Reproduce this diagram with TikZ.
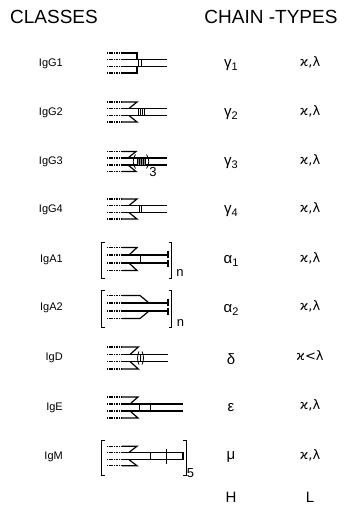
\documentclass[tikz,border=0pt]{standalone}
\usepackage{fontspec}
\setmainfont{Liberation Sans}
\newfontfamily\kfont{DejaVu Sans}
\usetikzlibrary{calc}

% chain drawing helpers (x in pt from the left, y relative to the row centre)
\newcommand\vreg[1]{\draw[vregion] (107,#1) -- (122,#1);}
\newcommand\hchain[2]{\vreg{#1}\draw[chain] (122,#1) -- (#2,#1);}
\newcommand\zlight[3]{\vreg{#1}\draw[chain] (122,#1) -- (#3,#1) -- ($(#3,#2)+(-8,0)$);}
\newcommand\lbr[3]{\draw[brk] (#1+3,#2) -- (#1,#2) -- (#1,#3) -- (#1+3,#3);}
\newcommand\rbr[3]{\draw[brk] (#1-3,#2) -- (#1,#2) -- (#1,#3) -- (#1-3,#3);}
\newcommand\sbs[1]{\raisebox{-0.35ex}{\fontsize{11}{11}\selectfont #1}}

\begin{document}
\begin{tikzpicture}[x=1pt,y=-1pt,
  chain/.style={line width=1.2pt},
  vregion/.style={line width=1.1pt, dash pattern=on 1.1pt off 0.6pt},
  hinge/.style={line width=0.8pt},
  brk/.style={line width=1pt},
  head/.style={font=\fontsize{19}{19}\selectfont, inner sep=0pt},
  cls/.style={font=\fontsize{11}{11}\selectfont, anchor=east, inner sep=0pt},
  hgreek/.style={font=\fontsize{15}{15}\selectfont, inner sep=0pt},
  lgreek/.style={font=\kfont\fontsize{13}{13}\selectfont, inner sep=0pt},
  idx/.style={font=\fontsize{13}{13}\selectfont, inner sep=0pt}]
\useasboundingbox (0,0) rectangle (350,516);

% column headings
\node[head] (hcls) at (54,17) {CLASSES};
\node[head] (hch) at (271,17) {CHAIN -TYPES};

% IgG1
\node[cls] (c1) at (63,64) {IgG1};
\node[hgreek] (h1) at (231,65) {γ\sbs{1}};
\node[lgreek] (l1) at (310,62) {ϰ,λ};
\begin{scope}[shift={(0,63)}]
  \hchain{-3.5}{167}\hchain{3.5}{167}
  \vreg{-10}\draw[chain] (122,-10) -- (137,-10) -- (137,-3.5);
  \vreg{10}\draw[chain] (122,10) -- (137,10) -- (137,3.5);
  \draw[hinge] (138.8,-3.5) -- (138.8,3.5) (141,-3.5) -- (141,3.5);
\end{scope}

% IgG2
\node[cls] (c2) at (63,113) {IgG2};
\node[hgreek] (h2) at (231,114) {γ\sbs{2}};
\node[lgreek] (l2) at (310,111) {ϰ,λ};
\begin{scope}[shift={(0,112)}]
  \hchain{-3.5}{167}\hchain{3.5}{167}
  \zlight{-10}{-3.5}{137}\zlight{10}{3.5}{137}
  \foreach \hx in {138.6,140.4,142.2,144}
    \draw[hinge] (\hx,-3.5) -- (\hx,3.5);
\end{scope}

% IgG3
\node[cls] (c3) at (63,162) {IgG3};
\node[hgreek] (h3) at (231,163) {γ\sbs{3}};
\node[lgreek] (l3) at (310,160) {ϰ,λ};
\begin{scope}[shift={(0,161.5)}]
  \hchain{-3.5}{167}\hchain{3.5}{167}
  \zlight{-10}{-3.5}{136}\zlight{10}{3.5}{136}
  \draw[hinge] (135.5,-7) .. controls (132.5,-3) and (132.5,3) .. (135.5,7);
  \draw[hinge] (146.5,-7) .. controls (149.5,-3) and (149.5,3) .. (146.5,7);
  \draw[hinge, fill=black!45] (137.5,-3.5) rectangle (145,3.5);
  \foreach \hx in {139.4,141.3,143.2}
    \draw[hinge] (\hx,-3.5) -- (\hx,3.5);
  \node[idx] (n3) at (153,11) {3};
\end{scope}

% IgG4
\node[cls] (c4) at (63,210) {IgG4};
\node[hgreek] (h4) at (231,211) {γ\sbs{4}};
\node[lgreek] (l4) at (310,208) {ϰ,λ};
\begin{scope}[shift={(0,209)}]
  \hchain{-3.5}{167}\hchain{3.5}{167}
  \zlight{-10}{-3.5}{137}\zlight{10}{3.5}{137}
  \draw[hinge] (139.4,-3.5) -- (139.4,3.5) (141.4,-3.5) -- (141.4,3.5);
\end{scope}

% IgA1
\node[cls] (c5) at (63,260) {IgA1};
\node[hgreek] (h5) at (231,261) {α\sbs{1}};
\node[lgreek] (l5) at (310,258) {ϰ,λ};
\begin{scope}[shift={(0,259)}]
  \hchain{-4}{168}\hchain{4}{168}
  \zlight{-11.5}{-4}{137}\zlight{11.5}{4}{137}
  \draw[hinge] (140,-4) -- (140,4);
  \draw[chain] (168,-7.8) -- (168,-0.8) (168,0.8) -- (168,7.8);
  \lbr{101.7}{-17}{19}\rbr{171.7}{-17}{19}
  \node[idx] (na1) at (180,14) {n};
\end{scope}

% IgA2
\node[cls] (c6) at (63,308) {IgA2};
\node[hgreek] (h6) at (231,310) {α\sbs{2}};
\node[lgreek] (l6) at (310,306) {ϰ,λ};
\begin{scope}[shift={(0,307)}]
  \hchain{-4}{168}\hchain{4}{168}
  \vreg{-11.5}\draw[chain] (122,-11.5) -- (140,-11.5) -- (149,-4);
  \vreg{11.5}\draw[chain] (122,11.5) -- (140,11.5) -- (149,4);
  \draw[chain] (168,-7.8) -- (168,-0.8) (168,0.8) -- (168,7.8);
  \lbr{101.7}{-17}{20}\rbr{171.7}{-17}{20}
  \node[idx] (na2) at (180.5,16) {n};
\end{scope}

% IgD
\node[cls] (c7) at (63,358) {IgD};
\node[hgreek] (h7) at (231,359) {δ};
\node[lgreek] (l7) at (310,356) {ϰ<λ};
\begin{scope}[shift={(0,358)}]
  \hchain{-3.8}{168}\hchain{3.8}{168}
  \zlight{-11}{-3.8}{138.3}\zlight{11}{3.8}{138.3}
  \draw[hinge] (139,-6.5) .. controls (137,-2) and (137,2) .. (139,6.5);
  \draw[hinge] (142,-6.5) .. controls (144,-2) and (144,2) .. (142,6.5);
  \draw[hinge] (140.5,-3.8) -- (140.5,3.8);
\end{scope}

% IgE
\node[cls] (c8) at (63,408) {IgE};
\node[hgreek] (h8) at (231,408) {ε};
\node[lgreek] (l8) at (310,405) {ϰ,λ};
\begin{scope}[shift={(0,407.5)}]
  \hchain{-3.5}{183}\hchain{3.5}{183}
  \zlight{-10.5}{-3.5}{138}\zlight{10.5}{3.5}{138}
  \draw[hinge] (139,-3.5) -- (139,3.5) (150,-3.5) -- (150,3.5);
\end{scope}

% IgM
\node[cls] (c9) at (63,457) {IgM};
\node[hgreek] (h9) at (231,457) {μ};
\node[lgreek] (l9) at (310,455) {ϰ,λ};
\begin{scope}[shift={(0,456)}]
  \hchain{-3.6}{183}\hchain{3.6}{183}
  \zlight{-9.8}{-3.6}{137}\zlight{9.8}{3.6}{137}
  \draw[chain] (183,-3.6) -- (183,3.6);
  \draw[hinge] (150,-3.6) -- (150,3.6);
  \draw[hinge] (166,-7.5) -- (166,8);
  \lbr{101.7}{-16}{19}\rbr{186}{-16}{19}
  \node[idx] (nm) at (190.5,17) {5};
\end{scope}

% chain-type legend
\node[hgreek] (hH) at (231,497) {H};
\node[hgreek] (hL) at (310,497) {L};
\end{tikzpicture}
\end{document}
